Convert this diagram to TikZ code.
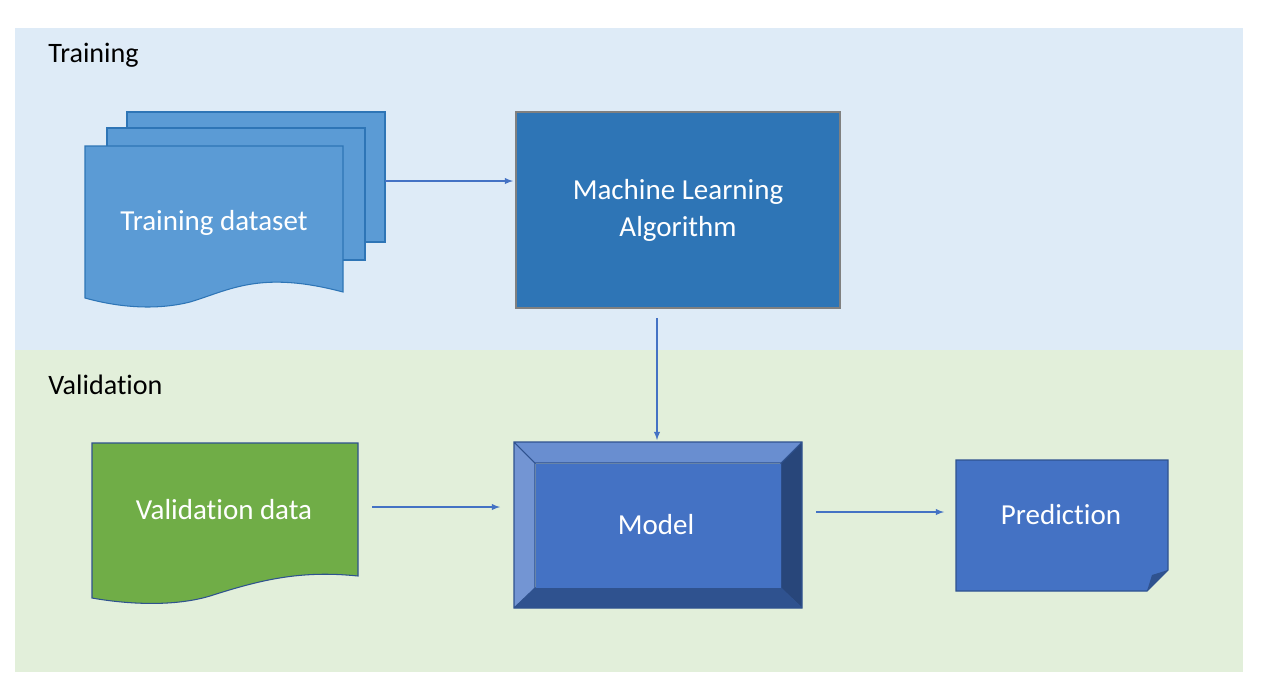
\documentclass[tikz,border=0pt]{standalone}
\usepackage{fontspec}
\setmainfont{Carlito}[Ligatures=NoCommon]
\usetikzlibrary{positioning}
\definecolor{trainbg}{RGB}{222,235,247}
\definecolor{validbg}{RGB}{226,239,218}
\definecolor{docblue}{RGB}{91,155,213}
\definecolor{docedge}{RGB}{46,117,182}
\definecolor{algblue}{RGB}{46,117,182}
\definecolor{modblue}{RGB}{68,114,196}
\definecolor{modedge}{RGB}{47,82,143}
\definecolor{valgreen}{RGB}{112,173,71}
\begin{document}
\begin{tikzpicture}[x=0.02cm,y=-0.02cm,>=latex,
  doc/.style={fill=docblue,draw=docedge,line width=0.6pt},
  flow/.style={->,draw=modblue,line width=0.6pt},
  lbl/.style={font=\fontsize{16}{19}\selectfont,anchor=west,inner sep=0},
  inner/.style={text=white,font=\fontsize{16.5}{21}\selectfont,align=center}]
\useasboundingbox (0,0) rectangle (1264,698);
% bands
\fill[trainbg] (15,28) rectangle (1243,350);
\fill[validbg] (15,350) rectangle (1243,672);
\node[lbl] (traintitle) at (48,55) {Training};
\node[lbl] (validtitle) at (48,385) {Validation};
% training dataset stack
\draw[doc] (127,112) rectangle (385,242);
\draw[doc] (107,128) rectangle (365,260);
\draw[doc] (85,146) -- (343,146) -- (343,292)
  .. controls (260,270) and (230,290) .. (190,302)
  .. controls (150,312) and (110,305) .. (85,298) -- cycle;
\node[inner] (dataset) at (214,223) {Training dataset};
% algorithm
\path[draw=gray,line width=0.8pt,fill=algblue] (516,112) rectangle (840,308);
\node[inner] (algo) at (678,210) {Machine Learning\\Algorithm};
% validation data
\draw[fill=valgreen,draw=modedge,line width=0.6pt] (92,443) -- (358,443) -- (358,576)
  .. controls (300,570) and (260,580) .. (210,596)
  .. controls (170,608) and (120,603) .. (92,598) -- cycle;
\node[inner] (valdata) at (224,510) {Validation data};
% model
\fill[modblue!75!white] (514,442) -- (535,463) -- (535,588) -- (514,608) -- cycle;
\fill[modblue!80!white] (514,442) -- (802,442) -- (781,463) -- (535,463) -- cycle;
\fill[modedge!85!black] (802,442) -- (802,608) -- (781,588) -- (781,463) -- cycle;
\fill[modedge] (514,608) -- (802,608) -- (781,588) -- (535,588) -- cycle;
\draw[modedge,line width=0.6pt] (514,442) rectangle (802,608)
  (535,463) rectangle (781,588)
  (514,442) -- (535,463) (802,442) -- (781,463)
  (514,608) -- (535,588) (802,608) -- (781,588);
\fill[modblue] (535.5,463.5) rectangle (780.5,587.5);
\node[inner] (model) at (656,525) {Model};
% prediction
\draw[fill=modblue,draw=modedge,line width=0.6pt] (956,460) -- (1168,460) -- (1168,570)
  -- (1147,591) -- (956,591) -- cycle;
\fill[modedge] (1168,570) -- (1147,591) -- (1152,575) -- cycle;
\node[inner] (prediction) at (1061,515) {Prediction};
% connectors
\coordinate (a1) at (385,181); \coordinate (a2) at (513,181);
\coordinate (b1) at (657,318); \coordinate (b2) at (657,440);
\coordinate (c1) at (372,507); \coordinate (c2) at (500,507);
\coordinate (d1) at (816,512); \coordinate (d2) at (944,512);
\draw[flow] (a1) -- (a2);
\draw[flow] (b1) -- (b2);
\draw[flow] (c1) -- (c2);
\draw[flow] (d1) -- (d2);
\end{tikzpicture}
\end{document}
